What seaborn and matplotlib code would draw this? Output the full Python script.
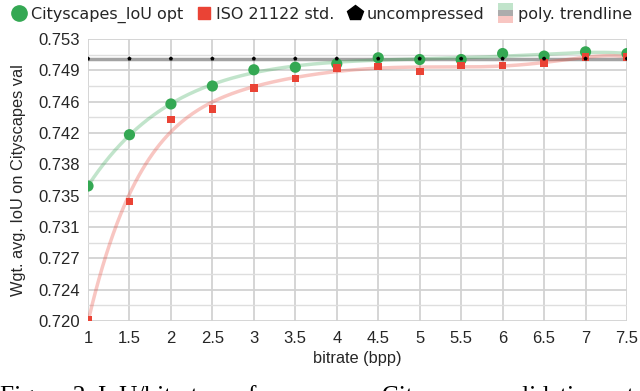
import numpy as np
import pandas as pd
import matplotlib
matplotlib.use("Agg")
import matplotlib.pyplot as plt
import seaborn as sns
from matplotlib.lines import Line2D
from matplotlib.patches import Rectangle
from matplotlib.legend_handler import HandlerBase

# Data
bitrate = [1, 1.5, 2, 2.5, 3, 3.5, 4, 4.5, 5, 5.5, 6, 6.5, 7, 7.5]
iou_opt = [0.7358, 0.7418, 0.7454, 0.7475, 0.7494, 0.7497, 0.7501,
           0.7508, 0.7506, 0.7506, 0.7513, 0.7510, 0.7515, 0.7513]
iou_iso = [0.7201, 0.7340, 0.7436, 0.7448, 0.7473, 0.7484, 0.7496,
           0.7498, 0.7492, 0.7499, 0.7499, 0.7502, 0.7509, 0.7509]
iou_uncomp = [0.7507, 0.7507, 0.7507, 0.7507, 0.7507, 0.7507, 0.7507,
              0.7507, 0.7507, 0.7507, 0.7507, 0.7507, 0.7507, 0.7507]

ytick_labels = ['0.720', '0.724', '0.727', '0.731', '0.735',
                '0.738', '0.742', '0.746', '0.749', '0.753']
xtick_labels = ['1', '1.5', '2', '2.5', '3', '3.5', '4', '4.5',
                '5', '5.5', '6', '6.5', '7', '7.5']

green = '#34a853'
red = '#ea4335'

df = pd.DataFrame({'bitrate': bitrate, 'opt': iou_opt,
                   'iso': iou_iso, 'uncomp': iou_uncomp})

# polynomial trendlines (degree 6 fit, like a spreadsheet trendline)
xs = np.linspace(1, 7.5, 300)
trend = pd.DataFrame({
    'bitrate': xs,
    'opt': np.polyval(np.polyfit(df.bitrate, df.opt, 6), xs),
    'iso': np.polyval(np.polyfit(df.bitrate, df.iso, 6), xs),
    'uncomp': np.polyval(np.polyfit(df.bitrate, df.uncomp, 0), xs),
})

sns.set_style("white")
plt.rcParams['font.family'] = ['DejaVu Sans']

fig = plt.figure(figsize=(6.4, 3.91), dpi=100)
ax = fig.add_axes([0.1375, 0.179, 0.8422, 0.7212])

sns.lineplot(data=trend, x='bitrate', y='uncomp', ax=ax, color='#8c8c8c',
             lw=2.5, alpha=0.8, zorder=2)
sns.lineplot(data=trend, x='bitrate', y='opt', ax=ax, color=green,
             lw=2.5, alpha=0.3, zorder=2)
sns.lineplot(data=trend, x='bitrate', y='iso', ax=ax, color=red,
             lw=2.5, alpha=0.3, zorder=2)

sns.scatterplot(data=df, x='bitrate', y='opt', ax=ax, color=green,
                marker='o', s=65, edgecolor='none', zorder=4)
sns.scatterplot(data=df, x='bitrate', y='iso', ax=ax, color=red,
                marker='s', s=30, edgecolor='none', zorder=5)
sns.scatterplot(data=df, x='bitrate', y='uncomp', ax=ax, color='black',
                marker='p', s=10, edgecolor='none', zorder=6)

ax.set_xlim(1, 7.5)
ax.set_ylim(0.720, 0.753)
yt = np.linspace(0.720, 0.753, 10)
ax.set_yticks(yt)
ax.set_yticklabels(ytick_labels)
ax.set_yticks((yt[:-1] + yt[1:]) / 2, minor=True)
ax.set_xticks(bitrate)
ax.set_xticklabels(xtick_labels)
for lab in ax.get_xticklabels() + ax.get_yticklabels():
    lab.set_fontfamily('Liberation Sans')
    lab.set_fontsize(12)
ax.tick_params(axis='y', which='both', length=0, pad=6)
ax.tick_params(axis='x', which='both', length=0, pad=7.5)

ax.grid(True, which='major', color='#d2d2d2', lw=1.3)
ax.grid(True, which='minor', axis='y', color='#dedede', lw=1.0)
ax.set_axisbelow(True)
for s in ax.spines.values():
    s.set_visible(False)

ax.set_xlabel('bitrate (bpp)', fontsize=11.8, family='Liberation Sans',
              labelpad=3)
ax.set_ylabel('Wgt. avg. IoU on Cityscapes val', fontsize=11.8,
              family='Liberation Sans', labelpad=9)


class TrendKey:
    pass


class TrendHandler(HandlerBase):
    def create_artists(self, legend, orig_handle, xdescent, ydescent,
                       width, height, fontsize, trans):
        h = 20 / 3 * 0.72
        y0 = -ydescent + height / 2 - 1.5 * h
        arts = []
        for i, c in enumerate([red, '#a8a8a8', green]):
            r = Rectangle((-xdescent, y0 + i * h), width, h,
                          facecolor=c, alpha=0.3 if c != '#a8a8a8' else 0.95,
                          edgecolor='none', transform=trans)
            arts.append(r)
        return arts


handles = [
    Line2D([], [], ls='none', marker='o', ms=11, color=green),
    Line2D([], [], ls='none', marker='s', ms=8.6, color=red),
    Line2D([], [], ls='none', marker='p', ms=11.5, color='black'),
    TrendKey(),
]
labels = ['Cityscapes_IoU opt', 'ISO 21122 std.', 'uncompressed', 'poly. trendline']
fig.legend(handles, labels, handler_map={TrendKey: TrendHandler()},
           loc='upper center', bbox_to_anchor=(0.502, 0.993), ncol=4,
           frameon=False, fontsize=11.5, handlelength=0.95,
           handletextpad=0.3, columnspacing=0.8, borderaxespad=0.0,
           borderpad=0.25)

# paper caption, cut off at the bottom edge as in the source image
fig.text(0.0, -0.03, 'Figure 2. IoU/bitrate performance on Cityscapes validation set.',
         fontsize=18.3, family='Liberation Serif', color='black', va='baseline')

fig.savefig('out.png', dpi=100)
